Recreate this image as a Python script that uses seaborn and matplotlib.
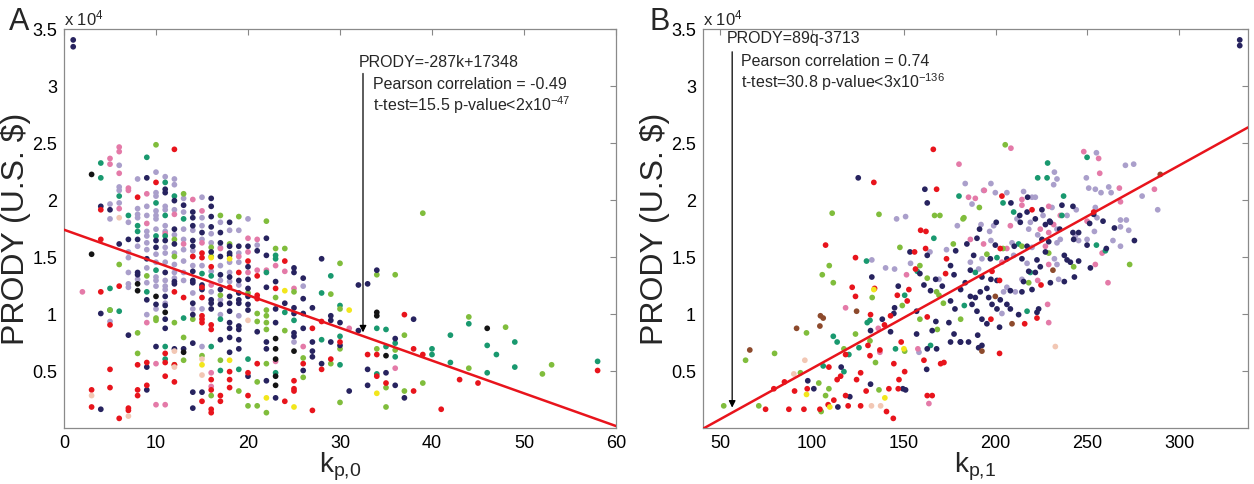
import numpy as np
import pandas as pd
import matplotlib
matplotlib.use("Agg")
import matplotlib.pyplot as plt
import seaborn as sns

# ---------------- data (x, PRODY in thousands of US$) ----------------
# Panel A: k_{p,0}
A_navy = [(1,34.0),(1,33.4),(4,19.4),(4,10.0),(4,1.6),(5,19.1),(6,16.1),(7,16.5),(7,8.1),(8,16.5),(8,13.6),(8,13.4),
          (9,21.9),(9,14.8),(9,11.2),(9,5.3),(9,3.3),(10,16.4),(10,15.8),(10,10.8),(10,7.1),(11,20.9),(11,20.6),(11,16.4),
          (11,13.6),(11,11.5),(11,10.7),(11,9.5),(11,8.7),(12,19.9),(12,17.4),(12,16.1),(12,12.8),(12,12.6),(12,6.9),
          (13,19.5),(13,6.9),(14,18.9),(14,18.4),(14,17.7),(14,16.4),(14,15.9),(14,13.7),(14,12.9),(14,12.7),(14,10.9),
          (14,9.9),(14,7.4),(14,3.1),(14,1.7),(15,17.1),(15,12.5),(15,12.1),(15,3.1),(16,20.1),(16,19.4),(16,18.5),
          (16,17.6),(16,15.4),(16,11.2),(16,10.9),(16,10.4),(17,17.1),(17,16.2),(17,15.0),(17,13.4),(17,12.1),(17,10.8),
          (17,7.7),(18,18.0),(18,15.9),(18,15.3),(18,15.1),(18,13.2),(18,11.5),(18,10.9),(18,10.2),(18,9.2),(18,8.7),
          (18,7.9),(18,6.6),(19,15.9),(19,12.9),(19,11.8),(19,11.2),(19,10.9),(19,8.9),(19,8.6),(19,7.7),(19,6.9),
          (20,15.9),(20,14.1),(20,13.0),(20,12.2),(20,11.5),(20,10.8),(20,10.3),(20,4.5),(21,15.5),(21,8.4),(22,16.6),
          (22,15.1),(22,12.3),(22,7.5),(22,6.9),(22,4.1),(23,12.8),(23,10.4),(23,9.2),(23,2.6),(24,10.9),(25,14.0),
          (25,13.6),(25,10.5),(25,10.0),(25,8.3),(25,8.0),(26,13.1),(26,11.3),(26,10.0),(26,8.7),(26,5.0),(27,10.5),
          (27,7.5),(27,6.7),(27,6.2),(28,14.8),(28,5.6),(29,9.8),(29,9.4),(29,7.5),(30,9.2),(30,7.2),(31,3.2),(32,12.5),
          (32,8.5),(33,12.6),(33,5.1),(33,3.7),(34,13.8),(35,4.8),(36,7.8),(36,3.7),(37,2.6),(38,9.5)]
A_lavender = [(5,19.6),(5,18.3),(5,9.3),(6,23.0),(6,21.1),(6,20.8),(6,19.7),(7,18.0),(7,15.4),(7,14.9),(7,13.6),(7,12.6),
          (7,12.3),(8,21.8),(8,19.2),(8,18.7),(8,18.4),(8,15.9),(8,13.0),(9,19.4),(9,18.6),(9,17.2),(9,16.8),(9,16.2),
          (9,15.6),(9,14.0),(9,12.7),(9,9.9),(10,22.4),(10,20.6),(10,20.3),(10,19.0),(10,18.6),(10,18.3),(10,17.4),
          (10,15.2),(10,14.5),(10,13.2),(10,12.9),(10,12.4),(10,10.4),(11,22.0),(11,19.4),(11,19.1),(11,17.7),(11,17.2),
          (11,15.8),(11,15.3),(11,14.5),(11,12.9),(11,12.4),(11,12.1),(11,10.9),(12,21.8),(12,21.3),(12,19.1),(12,16.9),
          (12,15.3),(12,14.3),(12,13.6),(12,13.1),(13,20.1),(13,18.9),(13,17.4),(13,16.5),(13,15.6),(13,14.6),(13,13.6),
          (13,12.9),(14,17.3),(14,15.5),(14,15.0),(14,14.2),(14,11.8),(14,10.4),(15,20.2),(15,18.4),(15,17.7),(15,16.5),
          (15,14.2),(15,10.4),(15,7.1),(16,17.0),(16,16.2),(16,13.7),(16,11.9),(17,18.0),(17,15.8),(17,14.2),(17,12.9),
          (17,11.2),(17,9.9),(18,17.3),(18,14.5),(18,13.6),(18,12.8),(19,17.3),(19,15.3),(19,14.5),(19,12.5),(19,9.8),
          (20,18.3),(21,16.0),(25,7.5),(26,12.4)]
A_pink = [(2,11.9),(5,23.6),(5,23.1),(6,24.6),(6,24.2),(6,22.3),(6,19.2),(7,21.0),(7,20.8),(9,20.5),(9,17.9),(9,9.2),
          (10,5.6),(10,2.0),(11,17.0),(11,2.0),(12,18.7),(13,16.1),(14,20.0),(15,19.0),(15,16.2),(16,12.5),(16,4.8),
          (16,3.6),(17,15.7),(19,15.0),(20,16.6),(20,15.4),(20,13.6),(21,16.5),(21,13.8),(22,13.8),(23,14.2),(23,5.8),
          (24,13.7),(25,12.2),(26,7.1),(31,8.7),(36,5.2)]
A_teal = [(4,23.2),(4,21.9),(5,12.2),(5,10.3),(6,20.3),(6,10.2),(7,18.6),(8,17.7),(8,17.2),(9,11.9),(9,23.7),(10,19.7),
          (10,16.8),(10,13.8),(11,21.5),(11,18.6),(11,16.8),(11,7.1),(11,6.0),(12,20.3),(13,18.3),(13,9.6),(15,13.5),
          (16,13.3),(16,7.1),(17,9.5),(17,5.0),(19,5.1),(20,6.0),(22,13.6),(23,15.1),(23,14.8),(23,4.8),(24,10.1),
          (25,9.4),(28,11.8),(28,7.7),(29,13.3),(30,10.7),(30,8.0),(30,5.5),(34,8.7),(34,4.7),(35,8.6),(35,7.1),
          (36,7.4),(36,6.2),(40,6.9),(40,6.4),(42,8.1),(42,5.7),(44,9.1),(46,7.2),(46,4.8),(47,6.4),(49,7.5),(49,5.3),
          (58,5.8)]
A_lime = [(5,10.3),(6,14.3),(8,8.3),(8,6.5),(9,13.3),(10,24.8),(10,9.6),(10,9.4),(12,16.5),(12,15.0),(12,9.2),(12,5.5),
          (13,20.5),(13,7.9),(13,5.9),(14,9.5),(15,6.3),(16,15.8),(16,15.0),(16,2.8),(17,18.6),(17,11.6),(17,5.9),
          (18,16.1),(19,18.5),(19,3.2),(20,11.8),(20,1.9),(21,10.0),(21,9.3),(21,4.0),(21,1.9),(22,18.1),(22,10.3),
          (22,9.8),(22,9.2),(22,8.6),(22,5.6),(22,1.3),(23,15.7),(23,11.4),(24,15.7),(24,8.5),(25,11.9),(26,6.1),
          (26,4.4),(29,11.7),(29,5.6),(30,14.4),(30,10.4),(30,6.9),(30,2.2),(34,13.4),(34,6.9),(35,3.5),(35,1.8),
          (36,13.4),(36,6.8),(37,8.1),(37,3.2),(39,18.8),(39,3.9),(44,9.7),(44,5.2),(48,8.8),(52,4.7),(53,5.5)]
A_red = [(3,3.3),(3,1.8),(4,19.1),(4,16.5),(4,11.9),(5,9.0),(5,5.1),(5,3.5),(6,12.4),(6,0.8),(7,1.7),(7,1.5),(8,20.2),
          (8,5.5),(8,3.3),(8,2.8),(9,5.7),(9,3.7),(10,21.5),(11,6.5),(11,5.7),(11,4.5),(12,24.4),(12,11.9),(12,5.5),
          (12,4.0),(13,11.4),(14,15.0),(15,15.3),(15,14.9),(15,12.3),(15,11.4),(15,9.8),(15,9.5),(15,9.2),(15,2.3),
          (16,14.1),(16,9.0),(16,8.6),(16,4.2),(16,3.3),(16,1.6),(16,1.3),(17,2.8),(17,2.3),(18,12.3),(18,4.9),(18,4.2),
          (18,3.5),(19,13.6),(20,14.6),(20,4.8),(20,2.8),(21,13.3),(21,11.6),(21,11.3),(21,5.6),(23,12.2),(24,14.6),
          (24,2.3),(25,4.1),(25,3.4),(25,3.2),(26,5.6),(27,8.7),(27,1.5),(28,9.3),(28,5.1),(29,6.0),(30,7.5),(33,6.4),
          (34,6.4),(34,4.5),(35,3.9),(37,9.9),(38,6.9),(38,3.2),(39,6.4),(41,1.6),(43,4.2),(45,3.9),(58,5.0)]
A_yellow = [(15,5.5),(16,14.9),(18,14.8),(18,5.9),(22,2.6),(24,12.0),(25,1.8),(31,10.3),(34,3.0)]
A_black = [(3,22.2),(3,15.2),(8,12.6),(8,12.0),(10,11.5),(11,10.1),(13,6.6),(23,7.8),(23,6.9),(23,6.0),(23,3.7),
          (25,6.7),(34,10.1),(34,9.8),(35,6.3),(46,8.7),(23,4.5)]
A_peach = [(3,2.8),(6,18.4),(12,6.7),(12,5.3),(15,6.0),(15,4.6),(20,9.4),(7,1.0)]

# Panel B: k_{p,1}
B_navy = [(97.6,4.1),(100.9,3.4),(114,1.8),(115.8,5.3),(120.5,2.7),(125.1,21.9),(132.5,13.2),(131.8,8.5),(131.8,3.8),
          (138.2,9.5),(142.7,8.4),(144.9,10.5),(144.5,10.0),(146.9,12.4),(149.4,3.4),(150.9,3.3),(153.3,15.4),
          (161.4,20.9),(162.7,19.7),(158.7,13.5),(162.7,15.1),(160.9,12.5),(164.5,12.0),(167.3,13.0),(156.9,10.2),
          (156.9,8.2),(165.4,8.5),(167.4,9.3),(162.7,6.9),(162.4,5.1),(167.8,6.9),(170.9,12.4),(175.4,14.2),
          (178.2,15.5),(177.3,13.4),(175.4,11.1),(177.8,10.4),(174.5,9.2),(177.3,8.2),(175.4,7.5),(180.9,12.1),
          (180.9,7.5),(253.4,18.7),(258.5,18.1),(264.7,17.5),(275.6,16.4),(251.6,14.0),(208.3,19.7),(217.4,20.2),
          (213.1,18.6),(217.1,18.9),(225.2,19.1),(236.1,19.5),(242.1,19.4),(229.8,18.0),(221.6,18.3),(234.9,17.4),
          (242.1,17.1),(245.2,17.1),(242.5,16.5),(228.9,16.3),(225.2,16.5),(217.1,15.9),(210.1,15.9),(199.8,16.0),
          (189.8,16.6),(200.3,18.0),(213.4,18.0),(227.1,17.8),(229.4,18.1),(191.2,17.4),(184.3,16.1),(188,15.1),
          (197.1,14.8),(206.1,14.8),(214.3,14.8),(222.5,14.7),(227.1,15.4),(237.4,15.1),(238.9,14.7),(240.7,14.5),
          (245.2,14.6),(224.3,14.1),(218,13.7),(221.6,13.6),(215.2,12.8),(229.8,12.7),(237.4,12.8),(242.9,13.2),
          (219.8,12.1),(214.3,11.9),(208,12.0),(200.7,12.9),(197.4,13.0),(195.2,12.2),(183.4,12.7),(186.2,13.8),
          (192.5,13.2),(191.6,11.9),(196.2,11.4),(202.5,11.2),(188.9,11.4),(186.2,11.5),(187.1,10.8),(189.8,10.2),
          (198,10.8),(200.7,10.4),(206.1,10.8),(208,10.4),(212.5,9.9),(223.4,10.4),(222.5,10.1),(192.5,9.5),
          (195.2,9.1),(202.1,8.8),(190.2,8.1),(185.2,7.5),(190.7,7.0),(192.5,7.2),(180.7,7.5),(260.3,15.7),
          (249.8,16.0),(251.2,17.9),(333,34.0),(333,33.5)]
B_lavender = [(132.5,14.7),(140,14.0),(144.9,13.9),(146,18.3),(150.9,18.5),(153.6,14.4),(164.2,15.4),(169.1,13.0),
          (173.2,15.6),(179.1,17.7),(158.2,6.6),(254.9,24.1),(232,22.4),(233.4,21.8),(231.6,21.3),(270.7,23.0),
          (275.2,23.1),(249.4,21.9),(250.7,21.0),(254.3,20.9),(257.4,20.6),(261.6,21.1),(262.9,20.6),(279.8,20.3),
          (288.3,19.1),(254.3,19.3),(255.2,18.4),(268,18.2),(271.2,18.2),(268,17.6),(272.5,17.3),(263.9,16.4),
          (268,15.9),(183.4,21.4),(187.1,19.6),(193.4,20.8),(197.4,21.4),(199.8,20.6),(206.1,20.6),(215.2,20.7),
          (219.8,20.2),(221.6,20.2),(230.7,19.3),(243.9,19.1),(238.9,18.6),(225.8,18.6),(218.9,18.0),(222.9,16.9),
          (233.4,17.4),(243.4,16.8),(245.2,16.4),(235.2,16.5),(233.4,16.2),(219.8,15.8),(208.9,16.2),(197.4,16.4),
          (196.7,17.2),(198.9,17.7),(211.6,18.3),(218,17.4),(192,17.8),(186.2,14.5),(192.5,14.8),(209.8,15.1),
          (217.1,14.4),(232,14.8),(233.4,14.3),(214.3,13.0),(234.3,13.0),(210.7,11.9),(206.1,12.3),(204.3,11.9),
          (190.7,13.9),(203.4,10.0),(253.8,17.2),(249.8,16.5)]
B_pink = [(118.2,10.5),(136.9,6.6),(136,8.7),(151.4,13.4),(157.6,6.9),(163.6,2.1),(180,23.1),(208.3,24.5),(248,24.2),
          (256.1,23.6),(256.7,22.3),(267.4,21.0),(268,19.8),(286.5,20.9),(249.8,18.1),(258,15.3),(254.3,14.3),
          (261.2,12.7),(185.2,20.2),(188.9,20.1),(193.8,20.8),(214.3,20.0),(214.3,19.5),(228.9,19.4),(235.2,18.6),
          (231.6,17.8),(228.9,17.1),(227.1,15.9),(206.1,15.7),(193.4,16.1),(186.2,16.5),(208,17.7),(224.3,17.4),
          (203.4,14.5),(228.9,14.3),(222.9,12.9),(228.3,10.8),(228.9,9.2)]
B_teal = [(106,5.4),(111.5,8.0),(113.6,7.5),(117.3,4.9),(120,6.4),(125.5,7.0),(129.6,14.6),(130,9.2),(131.5,9.4),
          (145.4,6.9),(150.4,11.6),(157.3,13.7),(166.3,16.6),(164.5,7.2),(180,20.3),(249.8,23.7),(228.3,23.2),
          (222.9,21.9),(228,21.9),(259.8,15.5),(204,19.7),(209.8,18.9),(237,20.3),(236.1,18.6),(212.5,16.1),
          (200.7,14.9),(218.9,13.6),(188.9,13.6),(182.9,10.7),(217.1,10.2),(254.9,16.0)]
B_lime = [(51.8,1.9),(63.7,5.9),(79.5,6.5),(70.9,1.9),(93.6,4.8),(96.9,8.3),(104.9,1.4),(103.6,3.9),(105.5,13.4),
          (109.3,14.2),(111.5,12.7),(110.9,18.8),(107.3,2.8),(109.1,3.4),(117.3,6.9),(123.6,8.2),(136.4,18.7),
          (132.7,11.4),(131.5,7.6),(136.4,3.3),(134.5,5.7),(147.8,15.8),(150.4,6.7),(149.1,10.7),(166.7,18.6),
          (169.6,18.6),(158.7,14.2),(162.7,13.1),(158.7,9.5),(168.2,8.6),(167.8,11.9),(169.1,11.6),(171.5,10.9),
          (176.9,16.1),(182.2,18.3),(182.7,18.4),(180.9,9.5),(205.2,24.8),(273,14.3),(191.1,19.3),(214.3,15.9),
          (204,15.7),(195.2,15.2),(228.9,15.3),(242.5,14.1),(218,12.7)]
B_red = [(74.6,1.6),(79.1,3.4),(84.9,4.0),(87.3,1.6),(90.4,3.2),(95.5,1.6),(97.3,3.4),(104.2,1.6),(107.3,16.0),
          (109.1,5.3),(108.7,2.0),(111.8,2.4),(113.6,4.2),(115.5,4.5),(118.2,6.4),(118.2,2.8),(119.6,1.9),(121.8,12.3),
          (123.6,11.5),(123.6,14.9),(126.4,4.8),(124.2,4.2),(126.4,1.9),(133.6,21.5),(134,12.2),(131.8,9.9),
          (130.4,7.2),(131.5,6.3),(129.4,3.2),(136.9,6.8),(139.4,9.0),(142.7,9.8),(140.5,1.4),(144.2,0.8),(141.8,3.4),
          (146.4,11.6),(144.5,5.6),(147.3,4.2),(146.9,3.4),(150.4,4.9),(148.5,7.5),(151.8,11.1),(152.7,12.1),
          (155.8,15.4),(156.3,13.9),(159.1,17.3),(162,17.2),(167.8,20.9),(161.8,15.7),(162.7,9.7),(160.9,5.9),
          (171.8,5.7),(170,5.6),(165.4,2.8),(162.7,2.8),(172.7,13.5),(173.2,14.8),(166,24.4),(203.4,20.3),
          (219.8,19.1),(202.5,15.7),(224.7,12.5),(202.1,12.9),(198,13.7),(197.4,9.5),(215.8,9.1),(222.5,9.6),
          (202.1,6.5),(253.4,18.9)]
B_yellow = [(96.9,2.9),(109.6,1.8),(133.6,12.1),(139.6,2.6),(150,6.9)]
B_peach = [(90,4.7),(96,5.9),(132.3,1.9),(137.3,1.9),(232.5,7.1)]
B_brown = [(66,6.8),(91.5,8.7),(104.5,9.8),(106,9.6),(104.2,8.9),(124.2,10.2),(231.2,13.8),(199.8,11.5),(208.9,9.1),
          (192.5,6.7),(289.7,22.2)]

# fitted lines (slope, intercept)
A_fit = (-287, 17348)
B_fit = (89, -3713)

y_ticks = [5000, 10000, 15000, 20000, 25000, 30000, 35000]
y_tick_labels = ["0.5", "1", "1.5", "2", "2.5", "3", "3.5"]
A_xticks = [0, 10, 20, 30, 40, 50, 60]
B_xticks = [50, 100, 150, 200, 250, 300]

palette = {
    "navy": "#27235f", "lavender": "#aa9fcb", "pink": "#e47aa8", "teal": "#19996f",
    "lime": "#80bd3c", "red": "#e8141c", "yellow": "#f2e61c", "black": "#141414",
    "peach": "#f2c7b4", "brown": "#8d4a2c",
}

def frame(groups):
    rows = []
    for name, pts in groups:
        for x, y in pts:
            rows.append((x, y * 1000.0, name))
    return pd.DataFrame(rows, columns=["x", "y", "grp"])

dfA = frame([("lavender", A_lavender), ("pink", A_pink), ("teal", A_teal), ("lime", A_lime),
             ("navy", A_navy), ("red", A_red), ("yellow", A_yellow), ("black", A_black), ("peach", A_peach)])
dfB = frame([("lavender", B_lavender), ("pink", B_pink), ("teal", B_teal), ("lime", B_lime),
             ("navy", B_navy), ("red", B_red), ("yellow", B_yellow), ("peach", B_peach), ("brown", B_brown)])

sns.set_theme(style="white")
plt.rcParams["font.family"] = ["Liberation Sans", "DejaVu Sans"]
plt.rcParams["mathtext.default"] = "regular"

fig = plt.figure(figsize=(12.54, 4.85), dpi=100)
axA = fig.add_axes([64/1254, 1-428.5/485, (616-64)/1254, 399/485])
axB = fig.add_axes([703/1254, 1-428.5/485, (1248-703)/1254, 399/485])

def style(ax, xlim, xticks, xlabel):
    ax.set_xlim(*xlim)
    ax.set_ylim(0, 35000)
    ax.set_xticks(xticks)
    ax.set_xticklabels([str(t) for t in xticks])
    ax.set_yticks(y_ticks)
    ax.set_yticklabels(y_tick_labels)
    ax.tick_params(direction="in", length=4, width=0.8, color="#888888", top=True, right=True,
                   labelsize=13, labelcolor="black", pad=5)
    for s in ax.spines.values():
        s.set_color("#8a8a8a")
        s.set_linewidth(0.9)
    ax.set_xlabel(xlabel, fontsize=20)
    ax.xaxis.set_label_coords(0.5, -0.055)
    ax.set_ylabel("PRODY (U.S. $)", fontsize=23)
    ax.yaxis.set_label_coords(-0.06, 0.5)
    ax.text(0.0, 1.004, r"x 10$^{4}$", transform=ax.transAxes, ha="left", va="bottom", fontsize=12)

for ax, df, fit, xlim in [(axA, dfA, A_fit, (0, 60)), (axB, dfB, B_fit, (40.5, 337.5))]:
    sns.scatterplot(data=df, x="x", y="y", hue="grp", palette=palette, s=17, linewidth=0,
                    legend=False, ax=ax, zorder=2)
    xs = np.array(xlim)
    ax.plot(xs, fit[0] * xs + fit[1], color="#e8141c", lw=1.8, zorder=3)

style(axA, (0, 60), A_xticks, r"k$_{p{,}0}$")
style(axB, (40.5, 337.5), B_xticks, r"k$_{p{,}1}$")

# annotations
axA.annotate("", xy=(32.5, 8100), xytext=(32.5, 31300),
             arrowprops=dict(arrowstyle="-|>", color="black", lw=0.9, mutation_scale=10))
axA.text(32.0, 32100, "PRODY=-287k+17348", fontsize=11.5, va="center", ha="left")
axA.text(33.6, 30200, "Pearson correlation = -0.49", fontsize=11.5, va="center", ha="left")
axA.text(33.6, 28400, r"t-test=15.5 p-value<2x10$^{\mathregular{-47}}$", fontsize=11.5, va="center", ha="left")

axB.annotate("", xy=(56.4, 1500), xytext=(56.4, 33200),
             arrowprops=dict(arrowstyle="-|>", color="black", lw=0.9, mutation_scale=10))
axB.text(53.6, 34200, "PRODY=89q-3713", fontsize=11.5, va="center", ha="left")
axB.text(61.3, 32200, "Pearson correlation = 0.74", fontsize=11.5, va="center", ha="left")
axB.text(61.3, 30400, r"t-test=30.8 p-value<3x10$^{\mathregular{-136}}$", fontsize=11.5, va="center", ha="left")

fig.text(0.007, 0.985, "A", fontsize=22, va="top", ha="left")
fig.text(0.518, 0.985, "B", fontsize=22, va="top", ha="left")

fig.savefig("out.png", dpi=100)
